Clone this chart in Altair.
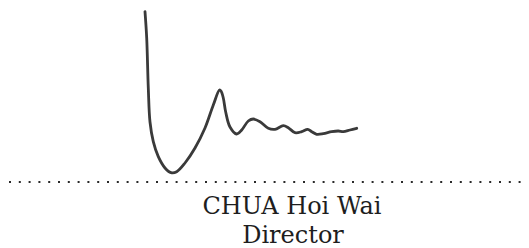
import altair as alt
import pandas as pd

# Signature stroke, traced point by point (page pixel coordinates)
sig_x = [145, 146.7, 148.3, 150, 153.3, 158.3, 165, 171, 176.7, 185, 195, 205, 213.3, 219.5,
         221, 223.3, 225.7, 230, 236.7, 241.7, 248.3, 253.3, 260, 268.3, 275, 283.3, 288.3,
         295, 301.7, 307.7, 311.7, 316.7, 323.3, 331.7, 338.3, 343.3, 350, 356.7]
sig_y = [11.7, 38, 88, 122, 141.7, 156.7, 168, 172.7, 171.7, 163, 148, 128, 105, 90,
         91, 98, 112, 127, 134, 130, 121, 119, 121.7, 128.3, 129.3, 125.7, 127.7,
         132.7, 131.7, 129.3, 131.7, 134.3, 133.7, 131.7, 131, 131.7, 130, 128.3]

# Dotted signature line
line_x = [9, 521]
line_y = [182, 182]

# Name block
labels = ["CHUA Hoi Wai", "Director"]
label_x = [292, 293]
label_y = [214, 243]

sig = pd.DataFrame({"x": sig_x, "y": sig_y, "i": list(range(len(sig_x)))})
dots = pd.DataFrame({"x": line_x, "y": line_y, "i": [0, 1]})
txt = pd.DataFrame({"x": label_x, "y": label_y, "t": labels})

xs = alt.Scale(domain=[8, 521])
ys = alt.Scale(domain=[8, 248], reverse=True)
X = alt.X("x:Q", scale=xs, axis=None)
Y = alt.Y("y:Q", scale=ys, axis=None)

stroke = alt.Chart(sig).mark_line(
    color="#3a3a3a", strokeWidth=2.8, interpolate="catmull-rom", clip=False,
    strokeCap="round", strokeJoin="round"
).encode(x=X, y=Y, order="i:Q")

dotted = alt.Chart(dots).mark_line(
    color="#2a2a2a", strokeWidth=2, strokeDash=[2, 7.8], clip=False
).encode(x=X, y=Y, order="i:Q")

names = alt.Chart(txt).mark_text(
    font="DejaVu Serif", fontSize=24, color="#1e1e1e",
    align="center", baseline="alphabetic"
).encode(x=X, y=Y, text="t:N")

chart = alt.layer(stroke, dotted, names).properties(
    width=513, height=240, autosize=alt.AutoSizeParams(type="none"), padding=0,
    background="white"
).configure_view(stroke=None)

chart.save("out.html", embed_options={"renderer": "svg", "actions": False})
